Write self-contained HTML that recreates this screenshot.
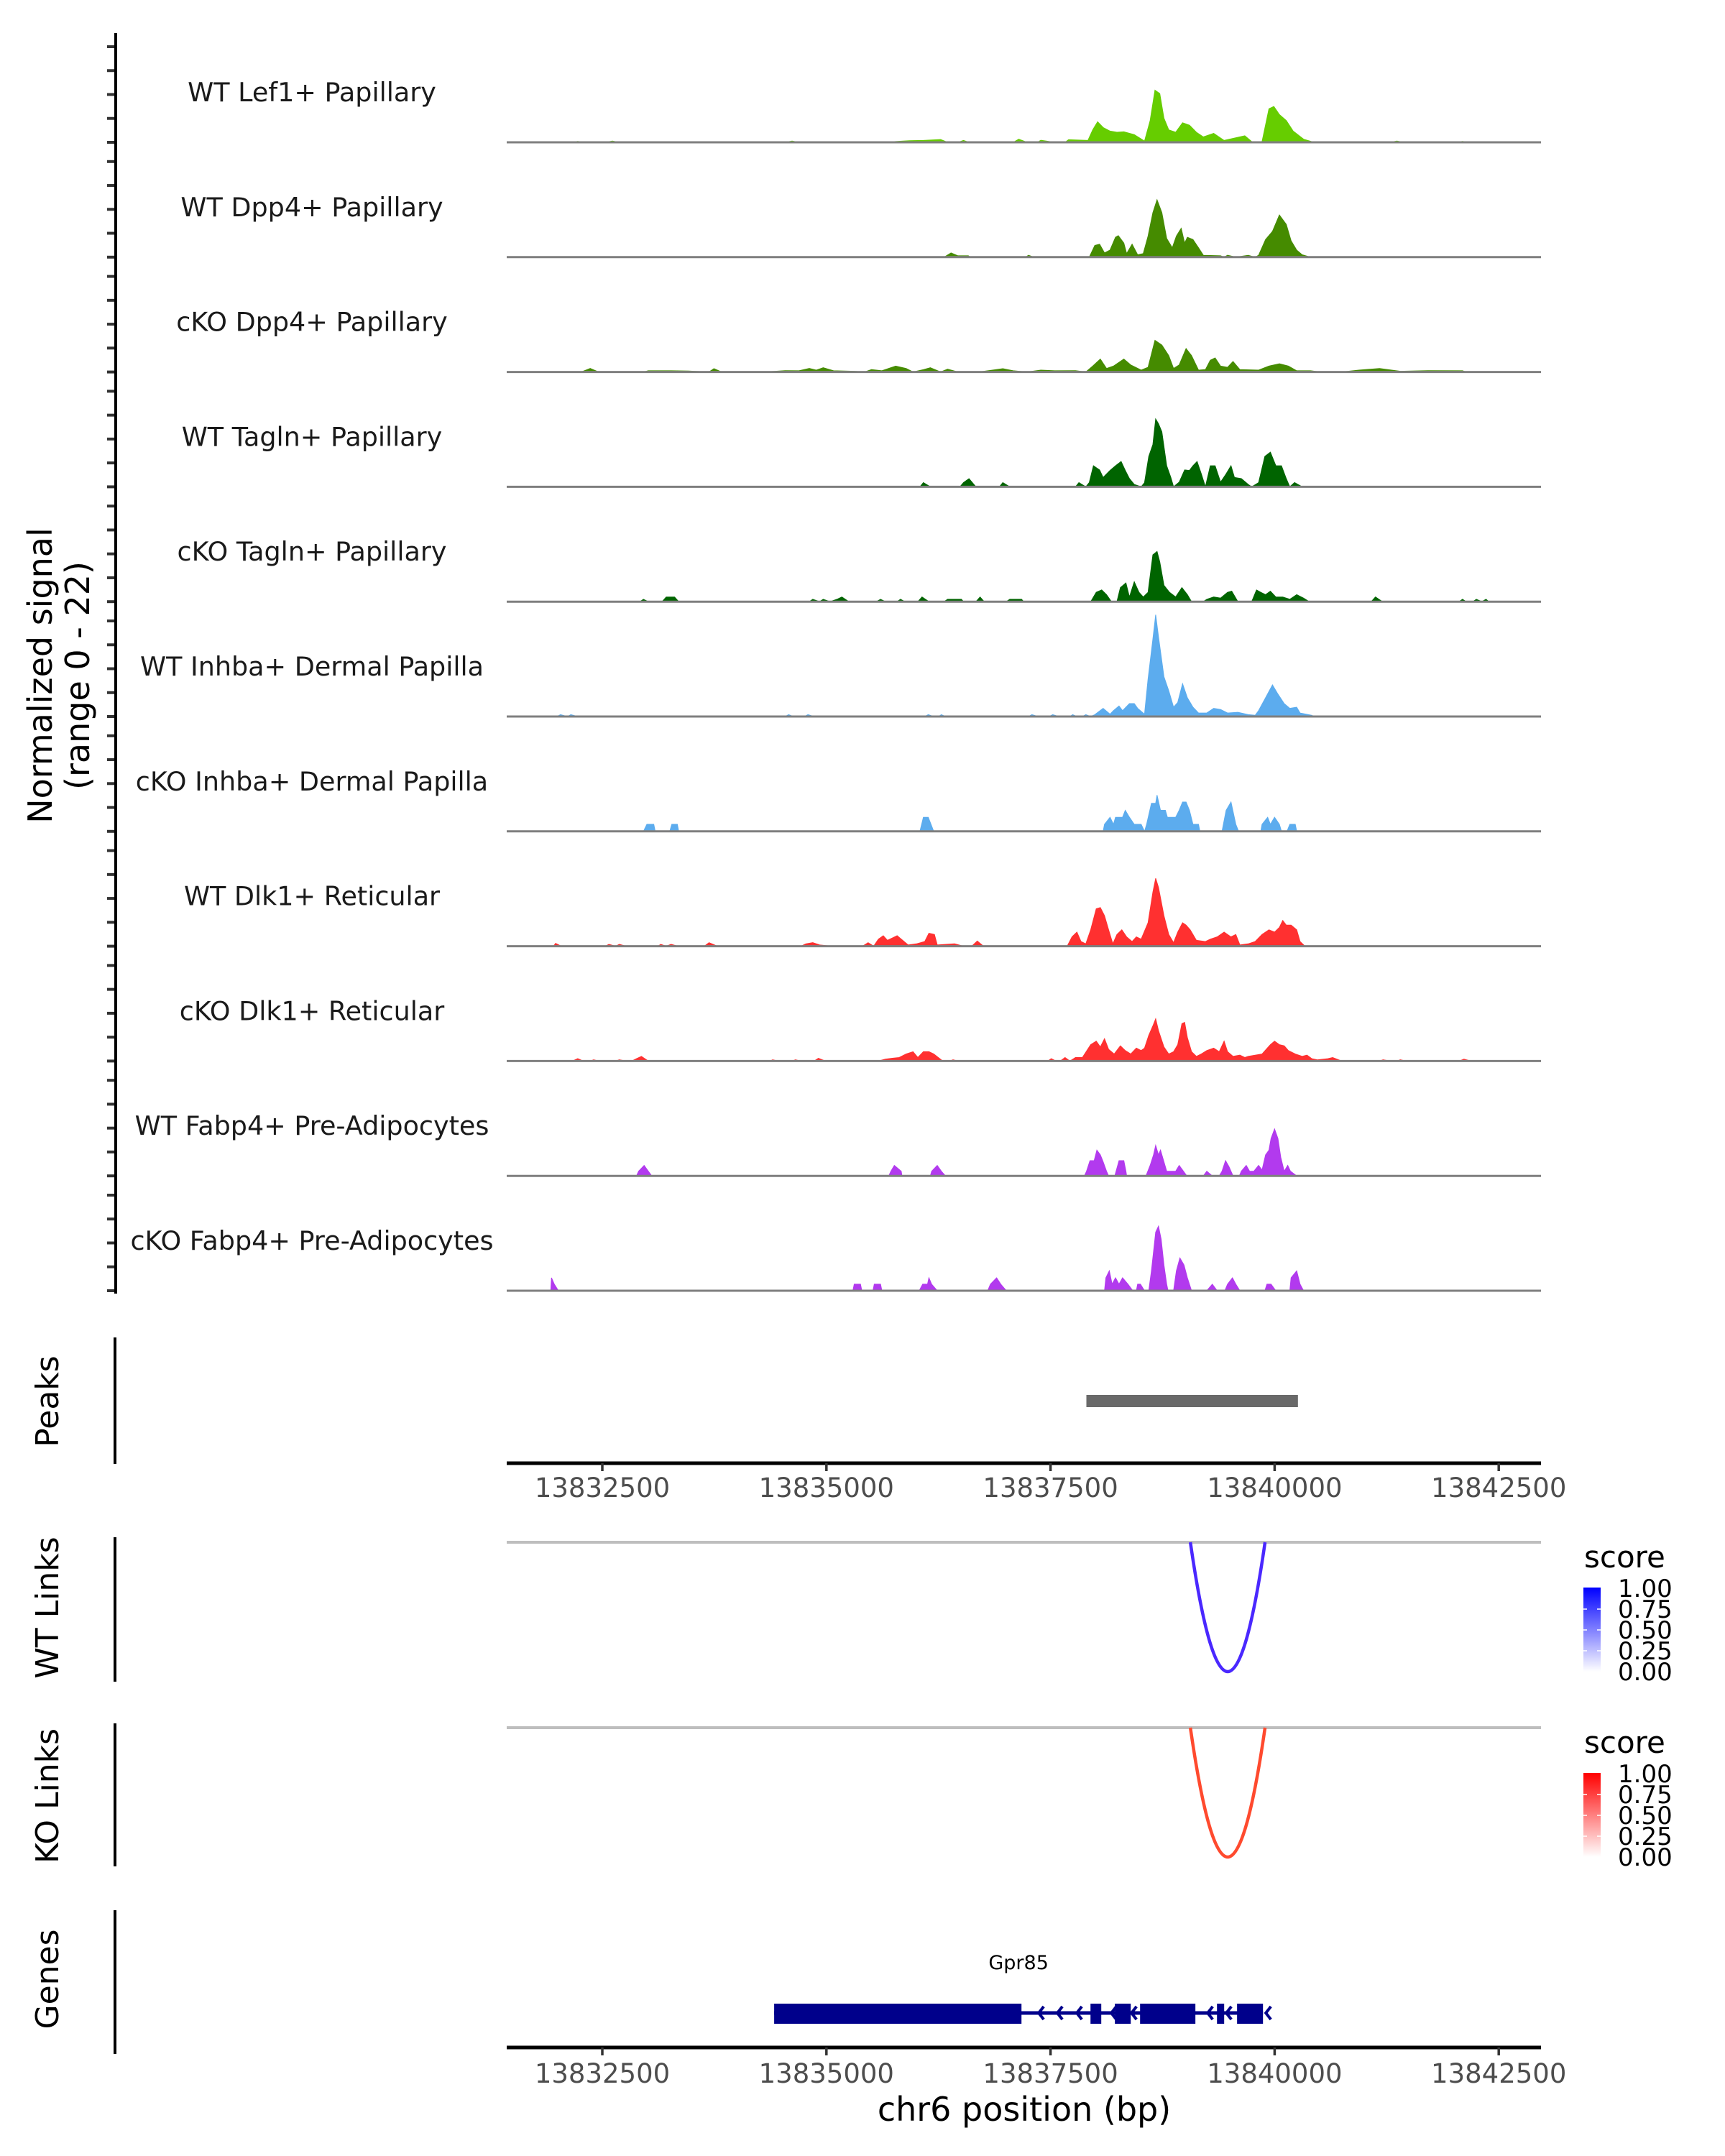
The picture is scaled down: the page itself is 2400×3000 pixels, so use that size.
<!DOCTYPE html>
<html><head><meta charset="utf-8"><title>Coverage plot</title>
<style>
html,body{margin:0;padding:0;background:#fff;}
svg{display:block;font-family:"DejaVu Sans","Liberation Sans",sans-serif;}
</style></head>
<body>
<svg id="chart" width="2400" height="3000" viewBox="0 0 2400 3000" xmlns="http://www.w3.org/2000/svg">
<g id="tracks"></g>
<g id="labels"></g>
<g id="leftaxis"></g>
<text transform="translate(72,940) rotate(-90)" text-anchor="middle" font-size="46" fill="#000">Normalized signal</text>
<text transform="translate(124,940) rotate(-90)" text-anchor="middle" font-size="46" fill="#000">(range 0 - 22)</text>
<g id="peaks"></g>
<g id="links"></g>
<g id="genes"></g>
<g id="axes"></g>
<text x="1425" y="2951" text-anchor="middle" font-size="46" fill="#000">chr6 position (bp)</text>
</svg>
<script>
// ---- data (positions in kb relative to chr6:13,830,000; values = normalized signal) ----
const trackNames = ["WT Lef1+ Papillary","WT Dpp4+ Papillary","cKO Dpp4+ Papillary","WT Tagln+ Papillary","cKO Tagln+ Papillary","WT Inhba+ Dermal Papilla","cKO Inhba+ Dermal Papilla","WT Dlk1+ Reticular","cKO Dlk1+ Reticular","WT Fabp4+ Pre-Adipocytes","cKO Fabp4+ Pre-Adipocytes"];
const trackColors = ["#66CD00","#458B00","#458B00","#006400","#006400","#5CACEE","#5CACEE","#FF3030","#FF3030","#B23AEE","#B23AEE"];
const lef1WT = [[2.149,0],[2.226,.2],[2.303,0],[2.535,0],[2.612,.25],[2.689,0],[4.54,0],[4.617,.25],[4.694,0],[5.619,0],[5.927,.34],[6.082,.39],[6.274,.59],[6.352,0],[6.467,0],[6.529,.39],[6.591,0],[7.084,0],[7.146,.64],[7.238,0],[7.354,0],[7.392,.44],[7.547,0],[7.662,0],[7.701,.54],[7.917,.39],[7.971,2.6],[8.025,4.3],[8.087,3.1],[8.164,2.35],[8.241,2.1],[8.318,2.2],[8.434,1.6],[8.549,.25],[8.611,4.55],[8.665,10.9],[8.719,10.2],[8.765,5.05],[8.819,2.6],[8.896,2.1],[8.973,4.07],[9.05,3.58],[9.127,2.1],[9.205,1.13],[9.32,1.86],[9.436,.39],[9.667,1.37],[9.744,.15],[9.86,.15],[9.937,7.0],[9.991,7.5],[10.053,5.8],[10.13,4.55],[10.207,2.35],[10.323,.64],[10.439,0],[11.287,0],[11.364,.25],[11.441,0],[12.019,0],[12.096,.2],[12.173,0]];
const dpp4WT = [[6.313,0],[6.39,.88],[6.467,.29],[6.583,.29],[6.606,0],[7.223,0],[7.254,.39],[7.315,0],[7.932,0],[7.994,2.45],[8.048,2.7],[8.102,.88],[8.164,1.47],[8.225,4.17],[8.256,4.5],[8.318,2.94],[8.349,.74],[8.41,2.7],[8.472,.49],[8.534,.74],[8.588,4.41],[8.642,9.31],[8.688,12.0],[8.742,9.31],[8.796,3.92],[8.858,1.96],[8.904,4.41],[8.958,6.03],[8.996,2.94],[9.027,4.17],[9.089,3.68],[9.151,1.96],[9.205,.39],[9.397,.29],[9.436,0],[9.475,.39],[9.567,0],[9.706,.39],[9.783,0],[9.821,.39],[9.899,3.68],[9.976,5.39],[10.053,8.82],[10.13,6.86],[10.184,3.43],[10.246,1.47],[10.307,.49],[10.4,0]];
const dpp4KO = [[2.265,0],[2.365,.74],[2.458,0],[2.959,0],[3.013,.25],[3.267,.25],[3.46,.2],[3.691,0],[3.745,.69],[3.83,0],[4.308,0],[4.54,.29],[4.694,.25],[4.809,.74],[4.887,.39],[4.964,.88],[5.079,.25],[5.31,.15],[5.426,0],[5.503,.49],[5.619,.25],[5.773,1.23],[5.889,.74],[5.966,0],[6.082,.49],[6.159,.88],[6.274,0],[6.352,.59],[6.467,0],[6.699,0],[6.853,.39],[6.968,.69],[7.084,.25],[7.238,0],[7.392,.39],[7.547,.25],[7.778,.29],[7.894,0],[7.971,1.23],[8.056,2.7],[8.125,.74],[8.202,1.23],[8.318,2.7],[8.395,1.47],[8.511,.39],[8.588,.98],[8.665,6.62],[8.742,5.64],[8.819,3.43],[8.873,.74],[8.935,1.47],[9.012,4.9],[9.073,3.43],[9.151,.39],[9.228,.49],[9.282,2.45],[9.336,2.94],[9.397,1.23],[9.475,.98],[9.536,2.2],[9.613,.49],[9.821,.39],[9.937,1.23],[10.053,1.72],[10.153,1.23],[10.246,.25],[10.4,.25],[10.515,0],[10.747,0],[10.94,.39],[11.171,.74],[11.402,.15],[11.711,.29],[12.096,.25],[12.135,0]];
const taglnWT = [[6.043,0],[6.082,.88],[6.159,0],[6.49,0],[6.529,.88],[6.591,1.72],[6.668,0],[6.93,0],[6.968,.88],[7.045,0],[7.778,0],[7.817,.88],[7.894,0],[7.932,.88],[7.979,4.41],[8.048,3.53],[8.087,1.96],[8.164,3.43],[8.225,4.41],[8.287,5.29],[8.334,3.43],[8.38,1.72],[8.434,.49],[8.511,0],[8.549,.88],[8.596,6.37],[8.642,8.82],[8.673,14.2],[8.704,13.2],[8.742,11.5],[8.796,4.41],[8.842,1.96],[8.873,0],[8.935,.98],[8.996,3.53],[9.05,3.43],[9.089,4.41],[9.135,5.29],[9.182,2.7],[9.228,0],[9.282,4.41],[9.336,4.41],[9.397,.98],[9.459,2.7],[9.513,4.41],[9.552,1.96],[9.629,1.72],[9.706,.49],[9.744,0],[9.821,.88],[9.891,6.37],[9.953,7.25],[10.014,4.41],[10.076,4.41],[10.13,1.72],[10.169,0],[10.222,.88],[10.307,0]];
const taglnKO = [[2.92,0],[2.959,.49],[3.013,0],[3.167,0],[3.213,.98],[3.306,.98],[3.352,0],[4.809,0],[4.848,.49],[4.925,0],[4.964,.49],[5.041,0],[5.118,.49],[5.172,.98],[5.249,0],[5.557,0],[5.604,.49],[5.658,0],[5.789,0],[5.827,.49],[5.874,0],[6.02,0],[6.066,.98],[6.143,0],[6.313,0],[6.352,.49],[6.506,.49],[6.529,0],[6.668,0],[6.714,.98],[6.76,0],[7.007,0],[7.045,.49],[7.177,.49],[7.2,0],[7.948,0],[8.01,1.96],[8.071,2.45],[8.125,1.47],[8.179,0],[8.241,0],[8.279,2.94],[8.341,3.92],[8.38,.98],[8.434,4.17],[8.487,1.96],[8.534,.98],[8.588,1.96],[8.642,9.8],[8.688,10.5],[8.719,8.33],[8.765,3.43],[8.827,1.96],[8.896,.98],[8.966,2.94],[9.027,1.47],[9.073,0],[9.205,0],[9.243,.49],[9.32,.98],[9.397,.74],[9.475,1.96],[9.521,2.2],[9.59,0],[9.744,0],[9.798,2.45],[9.845,1.96],[9.899,1.47],[9.953,2.2],[10.014,.98],[10.091,.98],[10.169,.49],[10.246,1.47],[10.323,.74],[10.385,0],[11.078,0],[11.125,.98],[11.202,0],[12.058,0],[12.096,.49],[12.135,0],[12.212,0],[12.25,.49],[12.312,0],[12.358,.49],[12.389,0]];
const inhbaWT = [[1.995,0],[2.033,.39],[2.111,0],[2.149,.39],[2.226,0],[4.54,0],[4.578,.39],[4.632,0],[4.755,0],[4.794,.39],[4.863,0],[6.097,0],[6.136,.39],[6.197,0],[6.251,0],[6.282,.39],[6.328,0],[7.254,0],[7.292,.39],[7.362,0],[7.485,0],[7.524,.39],[7.593,0],[7.716,0],[7.747,.39],[7.794,0],[7.855,0],[7.894,.39],[7.948,0],[7.994,.39],[8.087,1.72],[8.164,.49],[8.202,1.23],[8.264,2.2],[8.303,1.23],[8.38,2.7],[8.434,2.7],[8.472,1.72],[8.549,.49],[8.588,7.84],[8.642,16.2],[8.673,21.3],[8.704,16.7],[8.765,8.33],[8.819,5.39],[8.873,1.96],[8.919,2.94],[8.973,6.86],[9.027,3.92],[9.089,1.96],[9.151,.74],[9.243,.74],[9.32,1.72],[9.397,1.47],[9.475,.74],[9.59,.88],[9.706,.39],[9.783,.25],[9.821,1.23],[9.899,3.92],[9.976,6.62],[10.03,4.9],[10.107,2.7],[10.169,1.72],[10.246,1.96],[10.284,.74],[10.415,.25],[10.439,0]];
const inhbaKO = [[2.959,0],[2.997,1.47],[3.074,1.47],[3.09,0],[3.252,0],[3.275,1.47],[3.337,1.47],[3.352,0],[6.043,0],[6.082,2.94],[6.136,2.94],[6.197,0],[8.087,0],[8.102,1.47],[8.164,2.94],[8.202,1.47],[8.225,2.94],[8.303,2.94],[8.334,4.41],[8.38,2.94],[8.434,1.47],[8.511,1.47],[8.549,0],[8.572,1.47],[8.626,5.88],[8.673,5.88],[8.688,7.6],[8.727,4.41],[8.781,4.41],[8.804,2.94],[8.858,2.94],[8.896,2.94],[8.935,4.41],[8.973,6.13],[9.012,6.13],[9.05,4.41],[9.089,1.47],[9.151,1.47],[9.166,0],[9.413,0],[9.459,4.41],[9.513,6.13],[9.567,1.47],[9.598,0],[9.845,0],[9.86,1.47],[9.922,2.94],[9.953,1.47],[9.999,2.94],[10.053,1.47],[10.076,0],[10.138,0],[10.169,1.47],[10.23,1.47],[10.246,0]];
const dlk1WT = [[1.956,0],[1.979,.59],[2.041,0],[2.535,0],[2.573,.39],[2.65,0],[2.689,.39],[2.766,0],[3.121,0],[3.152,.39],[3.213,0],[3.267,.39],[3.344,0],[3.637,0],[3.691,.74],[3.784,0],[4.717,0],[4.771,.49],[4.848,.74],[4.925,.25],[5.064,0],[5.403,0],[5.465,.74],[5.527,0],[5.58,1.47],[5.634,2.2],[5.681,1.23],[5.735,1.72],[5.789,2.2],[5.85,1.23],[5.912,.25],[6.005,.49],[6.097,.98],[6.143,2.7],[6.205,2.45],[6.236,.25],[6.429,.49],[6.529,0],[6.621,0],[6.683,1.08],[6.752,0],[7.686,0],[7.74,1.96],[7.794,2.94],[7.84,.98],[7.894,.49],[7.948,3.43],[8.01,7.84],[8.056,8.09],[8.102,6.37],[8.148,3.43],[8.195,.49],[8.241,2.45],[8.295,3.43],[8.349,1.96],[8.41,.98],[8.457,1.96],[8.511,1.47],[8.588,4.9],[8.642,11.3],[8.673,14.2],[8.704,12.3],[8.765,6.37],[8.819,2.45],[8.873,.74],[8.919,2.94],[8.973,4.9],[9.012,4.41],[9.058,3.43],[9.127,1.23],[9.228,.98],[9.282,1.47],[9.359,1.96],[9.436,2.94],[9.513,1.96],[9.567,2.45],[9.613,.25],[9.706,.49],[9.783,.98],[9.86,2.45],[9.937,3.43],[9.999,2.94],[10.053,3.92],[10.091,5.39],[10.13,4.41],[10.184,4.41],[10.246,3.43],[10.284,.98],[10.338,0]];
const dlk1KO = [[2.165,0],[2.226,.49],[2.288,0],[2.365,0],[2.404,.25],[2.458,0],[2.65,0],[2.689,.25],[2.766,0],[2.828,0],[2.882,.49],[2.936,.98],[3.013,0],[4.37,0],[4.4,.25],[4.462,0],[4.617,0],[4.655,.25],[4.709,0],[4.863,0],[4.91,.59],[4.987,0],[5.58,0],[5.658,.39],[5.735,.59],[5.812,.74],[5.889,1.47],[5.966,1.96],[6.02,.74],[6.082,1.96],[6.143,1.96],[6.197,1.47],[6.298,0],[6.375,0],[6.413,.25],[6.467,0],[7.47,0],[7.508,.49],[7.562,0],[7.608,0],[7.662,.74],[7.716,0],[7.778,.74],[7.855,.74],[7.948,3.43],[8.01,4.17],[8.056,2.94],[8.102,4.66],[8.148,2.45],[8.21,1.47],[8.279,3.19],[8.334,2.2],[8.395,1.47],[8.457,2.7],[8.511,2.2],[8.549,2.7],[8.596,5.39],[8.642,7.35],[8.673,8.82],[8.704,6.37],[8.765,2.94],[8.819,1.47],[8.873,1.96],[8.919,3.43],[8.966,7.84],[8.996,8.09],[9.027,4.9],[9.073,1.96],[9.127,.98],[9.182,1.47],[9.243,2.2],[9.32,2.7],[9.382,1.96],[9.436,4.17],[9.475,1.96],[9.536,.98],[9.613,1.23],[9.667,.74],[9.706,.98],[9.783,1.23],[9.86,1.47],[9.953,3.43],[9.999,4.17],[10.053,3.43],[10.107,3.19],[10.153,2.2],[10.23,1.47],[10.307,.98],[10.361,1.23],[10.415,.49],[10.477,.25],[10.593,.49],[10.647,.74],[10.747,0],[11.171,0],[11.21,.25],[11.287,0],[11.364,0],[11.402,.25],[11.464,0],[12.058,0],[12.112,.39],[12.189,0]];
const fabp4WT = [[2.882,0],[2.905,.98],[2.967,2.2],[3.013,.98],[3.051,0],[5.696,0],[5.719,.98],[5.758,2.2],[5.835,.98],[5.843,0],[6.159,0],[6.174,.98],[6.236,2.2],[6.282,.98],[6.328,0],[7.878,0],[7.902,.98],[7.94,3.19],[7.987,3.19],[8.017,5.39],[8.056,4.41],[8.087,2.94],[8.125,.98],[8.148,0],[8.217,0],[8.264,3.19],[8.318,3.19],[8.341,.98],[8.349,0],[8.565,0],[8.611,2.2],[8.649,4.41],[8.673,6.37],[8.704,4.41],[8.727,5.39],[8.765,2.94],[8.796,.98],[8.896,.98],[8.935,2.2],[8.973,1.23],[9.02,0],[9.205,0],[9.243,.98],[9.305,0],[9.382,0],[9.413,.98],[9.452,3.19],[9.49,1.96],[9.536,0],[9.606,0],[9.629,.98],[9.683,2.2],[9.721,.98],[9.768,.98],[9.821,2.2],[9.86,1.23],[9.899,4.41],[9.937,5.39],[9.96,7.84],[9.999,9.8],[10.037,7.84],[10.068,3.92],[10.107,.98],[10.146,2.2],[10.176,.98],[10.246,0]];
const fabp4KO = [[1.925,0],[1.933,2.7],[1.964,1.37],[2.01,0],[5.295,0],[5.31,1.37],[5.38,1.37],[5.395,0],[5.519,0],[5.534,1.37],[5.604,1.37],[5.619,0],[6.035,0],[6.074,1.37],[6.128,1.37],[6.143,2.7],[6.174,1.37],[6.236,0],[6.799,0],[6.83,1.37],[6.899,2.7],[6.945,1.37],[7.007,0],[8.102,0],[8.117,2.7],[8.156,4.17],[8.187,1.37],[8.225,2.7],[8.264,1.37],[8.303,2.7],[8.364,1.37],[8.418,0],[8.457,0],[8.472,1.37],[8.503,1.37],[8.549,0],[8.596,0],[8.626,4.17],[8.673,12.25],[8.704,13.5],[8.734,10.8],[8.765,5.39],[8.796,1.37],[8.811,0],[8.873,0],[8.904,4.17],[8.943,6.86],[8.989,5.39],[9.027,2.7],[9.073,0],[9.243,0],[9.305,1.37],[9.359,0],[9.444,0],[9.475,1.37],[9.529,2.7],[9.567,1.37],[9.613,0],[9.891,0],[9.914,1.37],[9.96,1.37],[10.014,0],[10.169,0],[10.184,2.7],[10.246,4.17],[10.284,1.37],[10.323,0]];
const trackData = [lef1WT,dpp4WT,dpp4KO,taglnWT,taglnKO,inhbaWT,inhbaKO,dlk1WT,dlk1KO,fabp4WT,fabp4KO];
const yTickValues = [0,5,10,15,20];
const xTickValues = [2.5,5,7.5,10,12.5];
const xTickLabels = ["13832500","13835000","13837500","13840000","13842500"];
const peakStarts = [7.9];
const peakEnds = [10.26];
const wtLinkStart = [9.06], wtLinkEnd = [9.893], wtLinkScore = [0.8];
const koLinkStart = [9.06], koLinkEnd = [9.893], koLinkScore = [0.8];
const legendTicks = [1.00,0.75,0.50,0.25,0.00];
const exonStarts = [4.417,7.946,8.218,8.499,9.357,9.581];
const exonEnds   = [7.176,8.066,8.395,9.116,9.437,9.87];
const intronArrows = [7.368,7.576,7.793,8.178,8.403,9.253,9.461,9.902];
const geneName = "Gpr85", geneStart = 4.417, geneEnd = 9.87;

// ---- layout / scales ----
const NS = "http://www.w3.org/2000/svg";
const X0 = 705, X1 = 2144;
function X(kb){ return 838 + (kb - 2.5) * 124.72; }
const base0 = 198, trackStep = 159.8, pxPerUnit = 6.65;
function baseline(i){ return base0 + trackStep * i; }
function Y(i, v){ return baseline(i) - v * pxPerUnit; }
function mk(tag, attrs, parent){ const e = document.createElementNS(NS, tag); for (const k in attrs) e.setAttribute(k, attrs[k]); parent.appendChild(e); return e; }

const gT = document.getElementById('tracks'), gL = document.getElementById('labels'), gA = document.getElementById('leftaxis');
trackData.forEach((pts, i) => {
  let d = "M" + X(pts[0][0]).toFixed(1) + "," + baseline(i);
  pts.forEach(p => { d += " L" + X(p[0]).toFixed(1) + "," + Y(i, p[1]).toFixed(1); });
  d += " L" + X(pts[pts.length-1][0]).toFixed(1) + "," + baseline(i) + " Z";
  const a = mk('path', {d: d, fill: trackColors[i], stroke: trackColors[i], 'stroke-width': 1}, gT);
  
  
  const bl = mk('line', {x1: X0, x2: X1, y1: baseline(i), y2: baseline(i), stroke: '#7f7f7f', 'stroke-width': 3}, gT);
  
  
  const t = mk('text', {x: 434, y: baseline(i) - 57, 'text-anchor': 'middle', 'font-size': 36.5, fill: '#1a1a1a'}, gL);
  t.textContent = trackNames[i];
  
  
  yTickValues.forEach(v => {
    const tk = mk('line', {x1: 149, x2: 161, y1: Y(i, v), y2: Y(i, v), stroke: '#333', 'stroke-width': 4}, gA);
    
    
  });
});
const axl = mk('line', {x1: 161, x2: 161, y1: 46, y2: baseline(10) + 4, stroke: '#000', 'stroke-width': 4}, gA);



// side panels (label + vertical line)
const panels = [["Peaks",1861,2037,1950],["WT Links",2139,2340,2237],["KO Links",2398,2597,2499],["Genes",2658,2858,2754]];
panels.forEach(p => {
  const l = mk('line', {x1: 160, x2: 160, y1: p[1], y2: p[2], stroke: '#000', 'stroke-width': 4}, document.getElementById('chart'));
  
  
  const t = mk('text', {transform: 'translate(81,' + p[3] + ') rotate(-90)', 'text-anchor': 'middle', 'font-size': 44, fill: '#000'}, document.getElementById('chart'));
  t.textContent = p[0];
  
  
});

// peaks
const gP = document.getElementById('peaks');
peakStarts.forEach((s, i) => {
  const r = mk('rect', {x: X(s), y: 1941, width: X(peakEnds[i]) - X(s), height: 17, fill: '#696969'}, gP);
  
  
});

// x axes
const gX = document.getElementById('axes');
[[2036, 2070], [2849, 2885]].forEach((ax, k) => {
  const l = mk('line', {x1: X0, x2: X1, y1: ax[0], y2: ax[0], stroke: '#000', 'stroke-width': 5}, gX);
  
  
  xTickValues.forEach((v, j) => {
    const tk = mk('line', {x1: X(v), x2: X(v), y1: ax[0], y2: ax[0] + 11, stroke: '#333', 'stroke-width': 3.5}, gX);
    
    
    const t = mk('text', {x: X(v), y: ax[1] + 13, 'text-anchor': 'middle', 'font-size': 37, fill: '#4d4d4d'}, gX);
    t.textContent = xTickLabels[j];
    
    
  });
});

// links
const gK = document.getElementById('links');
function drawLinks(top, depth, starts, ends, scores, color, name){
  const g = mk('line', {x1: X0, x2: X1, y1: top, y2: top, stroke: '#bebebe', 'stroke-width': 4}, gK);
  
  
  starts.forEach((s, i) => {
    const x1 = X(s), x2 = X(ends[i]), xm = (x1 + x2) / 2;
    const p = mk('path', {d: 'M' + x1 + ',' + top + ' Q' + xm + ',' + (top + 2 * depth * scores[i] / 0.8) + ' ' + x2 + ',' + top, fill: 'none', stroke: color, 'stroke-width': 4.5}, gK);
    
    
  });
}
drawLinks(2146, 180, wtLinkStart, wtLinkEnd, wtLinkScore, '#4A28FF', 'wt-link');
drawLinks(2404, 180, koLinkStart, koLinkEnd, koLinkScore, '#FF4A2E', 'ko-link');

// legends
function legend(dy, color, id){
  const svg = document.getElementById('chart');
  const defs = mk('defs', {}, svg);
  const gr = mk('linearGradient', {id: id, x1: 0, y1: 1, x2: 0, y2: 0}, defs);
  mk('stop', {offset: 0, 'stop-color': '#ffffff'}, gr);
  mk('stop', {offset: 1, 'stop-color': color}, gr);
  const t = mk('text', {x: 2204, y: 2181 + dy, 'font-size': 42, fill: '#000'}, svg);
  t.textContent = 'score';
  
  
  const r = mk('rect', {x: 2203, y: 2209 + dy, width: 24, height: 117, fill: 'url(#' + id + ')'}, svg);
  
  
  legendTicks.forEach(v => {
    const y = 2326 + dy - v * 116;
    const lt = mk('text', {x: 2251, y: y + 12, 'font-size': 34, fill: '#000'}, svg);
    lt.textContent = v.toFixed(2);
    
    
    if (v > 0 && v < 1) {
      const a = mk('line', {x1: 2203, x2: 2208, y1: y, y2: y, stroke: '#fff', 'stroke-width': 1.5}, svg);
      
      
      const b = mk('line', {x1: 2222, x2: 2227, y1: y, y2: y, stroke: '#fff', 'stroke-width': 1.5}, svg);
      
      
    }
  });
}
legend(0, '#0000FF', 'wt-score');
legend(258, '#FF0000', 'ko-score');

// genes
const gG = document.getElementById('genes');
const gl = mk('line', {x1: X(geneStart), x2: X(geneEnd), y1: 2801, y2: 2801, stroke: '#00008B', 'stroke-width': 5}, gG);


exonStarts.forEach((s, i) => {
  const r = mk('rect', {x: X(s), y: 2788, width: X(exonEnds[i]) - X(s), height: 28, fill: '#00008B'}, gG);
  
  
});
intronArrows.forEach(a => {
  const x = X(a);
  const p = mk('path', {d: 'M' + (x + 7) + ',2792 L' + x + ',2801 L' + (x + 7) + ',2810', fill: 'none', stroke: '#00008B', 'stroke-width': 4}, gG);
  
  
});
const gn = mk('text', {x: (X(geneStart) + X(geneEnd)) / 2, y: 2740, 'text-anchor': 'middle', 'font-size': 27, fill: '#000'}, gG);
gn.textContent = geneName;


</script>
</body></html>
